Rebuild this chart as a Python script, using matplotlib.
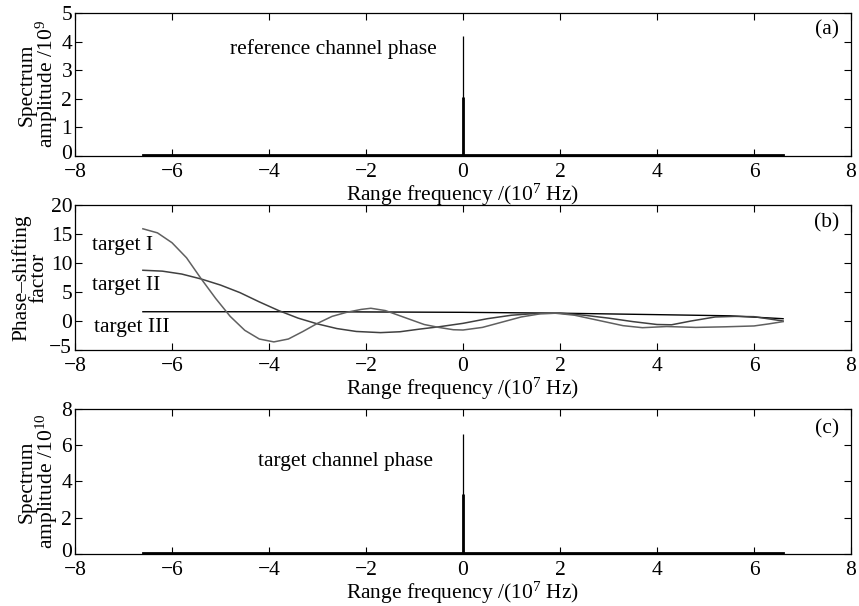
import numpy as np
import matplotlib
matplotlib.use("Agg")
import matplotlib.pyplot as plt
from matplotlib.transforms import ScaledTranslation

plt.rcParams['font.family'] = ['Liberation Serif', 'DejaVu Serif']
plt.rcParams['mathtext.fontset'] = 'custom'
plt.rcParams['mathtext.rm'] = 'Liberation Serif'
plt.rcParams['mathtext.it'] = 'Liberation Serif:italic'

# band edges of the spectrum (10^7 Hz)
band = [-6.6, 6.6]
floor_ref = 0.03
floor_tgt = 0.05

# (a) reference channel: main bin and neighbour bin (10^9)
ref_peak_f = [0.0, -0.01]
ref_peak_a = [4.2, 2.05]

# (c) target channel (10^10)
tgt_peak_f = [0.0, -0.01]
tgt_peak_a = [6.6, 3.3]

# (b) phase-shifting factor curves
t1_f = [-6.6, -6.3, -6.0, -5.7, -5.4, -5.1, -4.8, -4.5, -4.2, -3.9, -3.6, -3.3,
        -3.0, -2.7, -2.4, -2.1, -1.9, -1.6, -1.2, -0.8, -0.5, -0.2, 0.0, 0.4,
        0.8, 1.2, 1.6, 1.9, 2.3, 2.8, 3.3, 3.7, 4.2, 4.8, 5.4, 6.0, 6.3, 6.6]
t1_v = [15.9, 15.2, 13.5, 10.9, 7.3, 3.9, 0.8, -1.6, -3.1, -3.6, -3.1, -1.8,
        -0.4, 0.8, 1.5, 2.0, 2.2, 1.8, 0.6, -0.6, -1.1, -1.5, -1.55, -1.1,
        -0.2, 0.7, 1.25, 1.35, 1.0, 0.1, -0.8, -1.15, -0.95, -1.1, -1.0, -0.85, -0.5, -0.1]

t2_f = [-6.6, -6.2, -5.8, -5.4, -5.0, -4.6, -4.2, -3.8, -3.4, -3.0, -2.6, -2.2,
        -1.7, -1.3, -0.9, -0.5, 0.0, 0.5, 1.0, 1.5, 2.0, 2.5, 3.0, 3.5, 4.0,
        4.3, 4.7, 5.2, 5.6, 6.0, 6.6]
t2_v = [8.75, 8.6, 8.1, 7.25, 6.2, 4.9, 3.3, 1.8, 0.5, -0.5, -1.3, -1.8,
        -2.0, -1.85, -1.4, -1.0, -0.4, 0.4, 1.0, 1.3, 1.35, 1.0, 0.5, -0.1, -0.6,
        -0.65, 0.0, 0.7, 0.8, 0.75, 0.0]

t3_f = [-6.6, -3.0, 0.0, 2.0, 4.0, 5.5, 6.6]
t3_v = [1.6, 1.6, 1.5, 1.35, 1.1, 0.9, 0.4]

xticks = [-8, -6, -4, -2, 0, 2, 4, 6, 8]
xlab = 'Range frequency /(10$^{7}$ Hz)'
fs = 15.5


def lab(t):
    return '\u2212%d' % -t if t < 0 else '%d' % t


def setup(ax, ylim, yticks, ylabel, tag, tag_y):
    ax.set_xlim(-8, 8)
    ax.set_ylim(ylim)
    ax.set_xticks(xticks)
    ax.set_xticklabels([lab(t) for t in xticks])
    ax.set_yticks(yticks)
    ax.set_yticklabels([lab(t) for t in yticks])
    ax.tick_params(direction='in', top=True, right=True, length=5, width=0.8,
                   labelsize=fs)
    ax.tick_params(axis='x', pad=5)
    ax.tick_params(axis='y', pad=2)
    # lift the lowest y label a bit so it clears the first x label
    low = ax.get_yticklabels()[0]
    low.set_transform(low.get_transform() + ScaledTranslation(0, 3 / 72, ax.figure.dpi_scale_trans))
    ax.set_xlabel(xlab, fontsize=fs, labelpad=0)
    ax.set_ylabel(ylabel, fontsize=fs, linespacing=0.85, labelpad=1)
    ax.text(7.75, tag_y, tag, fontsize=fs, ha='right', va='center')
    for s in ax.spines.values():
        s.set_linewidth(0.9)


fig = plt.figure(figsize=(8.59, 6.06), dpi=100)
ax1 = fig.add_axes([0.0873, 0.7426, 0.9034, 0.2360])
ax2 = fig.add_axes([0.0873, 0.4224, 0.9034, 0.2393])
ax3 = fig.add_axes([0.0873, 0.0858, 0.9034, 0.2393])

# (a)
ax1.plot(band, [floor_ref, floor_ref], color='black', lw=2)
ax1.vlines(ref_peak_f[0], 0, ref_peak_a[0], color='black', lw=0.9)
ax1.vlines(ref_peak_f[1], 0, ref_peak_a[1], color='black', lw=2)
ax1.text(-4.8, 3.74, 'reference channel phase', fontsize=fs, va='center')
setup(ax1, (0, 5), [0, 1, 2, 3, 4, 5], 'Spectrum\namplitude /10$^{9}$', '(a)', 4.4)

# (b)
ax2.plot(t3_f, t3_v, color='black', lw=1.0)
ax2.plot(t2_f, t2_v, color='#404040', lw=1.1)
ax2.plot(t1_f, t1_v, color='#606060', lw=1.1)
ax2.text(-7.65, 13.1, 'target I', fontsize=fs, va='center')
ax2.text(-7.65, 6.2, 'target II', fontsize=fs, va='center')
ax2.text(-7.6, -1.2, 'target III', fontsize=fs, va='center')
setup(ax2, (-5, 20), [-5, 0, 5, 10, 15, 20], 'Phase\u2013shifting\nfactor', '(b)', 16.9)

# (c)
ax3.plot(band, [floor_tgt, floor_tgt], color='black', lw=2)
ax3.vlines(tgt_peak_f[0], 0, tgt_peak_a[0], color='black', lw=0.9)
ax3.vlines(tgt_peak_f[1], 0, tgt_peak_a[1], color='black', lw=2)
ax3.text(-4.23, 5.08, 'target channel phase', fontsize=fs, va='center')
setup(ax3, (0, 8), [0, 2, 4, 6, 8], 'Spectrum\namplitude /10$^{10}$', '(c)', 6.9)

fig.savefig('out.png', dpi=100)
